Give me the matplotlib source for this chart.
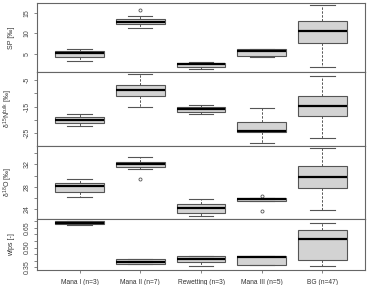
import matplotlib
matplotlib.use("Agg")
import matplotlib.pyplot as plt

plt.rcParams['font.family'] = ['Liberation Sans', 'DejaVu Sans']
plt.rcParams['mathtext.fontset'] = 'custom'
plt.rcParams['mathtext.rm'] = 'Liberation Sans'
plt.rcParams['mathtext.it'] = 'Liberation Sans'

# Groups
groups = ["Mana I (n=3)", "Mana II (n=7)", "Rewetting (n=3)", "Mana III (n=5)", "BG (n=47)"]

# SP
sp_low = [3.3, 11.3, 1.3, 4.2, 1.9]
sp_q1 = [4.3, 12.3, 1.9, 4.5, 7.6]
sp_med = [5.2, 12.8, 2.5, 5.8, 10.5]
sp_q3 = [5.7, 13.5, 2.8, 6.1, 13.0]
sp_high = [6.2, 14.2, 3.0, 6.3, 17.0]
sp_out = [[], [15.7], [], [], []]

# d15N bulk
n_low = [-22.2, -15.0, -17.9, -28.7, -26.7]
n_q1 = [-21.0, -11.0, -17.0, -24.5, -18.5]
n_med = [-20.0, -8.9, -16.0, -24.1, -14.9]
n_q3 = [-19.0, -6.9, -15.1, -20.6, -11.1]
n_high = [-17.9, -2.9, -14.3, -15.5, -3.4]
n_out = [[], [], [], [], []]

# d18O
o_low = [26.1, 31.2, 22.7, 25.5, 23.8]
o_q1 = [27.1, 31.5, 23.3, 25.5, 27.7]
o_med = [28.1, 32.0, 24.1, 25.7, 29.7]
o_q3 = [28.7, 32.4, 24.9, 25.95, 31.75]
o_high = [29.4, 33.3, 25.8, 25.95, 34.9]
o_out = [[], [29.3], [], [26.4, 23.7], []]

# wfps
w_low = [0.67, 0.372, 0.363, 0.37, 0.363]
w_q1 = [0.678, 0.378, 0.393, 0.37, 0.405]
w_med = [0.69, 0.393, 0.415, 0.425, 0.567]
w_q3 = [0.70, 0.41, 0.435, 0.435, 0.635]
w_high = [0.70, 0.415, 0.435, 0.435, 0.685]
w_out = [[], [], [], [], []]

panels = [
    (sp_low, sp_q1, sp_med, sp_q3, sp_high, sp_out, "SP [‰]",
     (0.6, 17.4), [5, 10, 15], [5, 10, 15]),
    (n_low, n_q1, n_med, n_q3, n_high, n_out, r"$\delta^{15}$N$^{bulk}$ [‰]",
     (-29.75, -2.0), [-25, -20, -15, -10, -5], [-25, -15, -5]),
    (o_low, o_q1, o_med, o_q3, o_high, o_out, r"$\delta^{18}$O [‰]",
     (22.2, 35.3), [24, 26, 28, 30, 32, 34], [24, 28, 32]),
    (w_low, w_q1, w_med, w_q3, w_high, w_out, "wfps [-]",
     (0.33, 0.717), [0.35, 0.40, 0.45, 0.50, 0.55, 0.60, 0.65, 0.70], [0.35, 0.50, 0.65]),
]

edge = "#555555"
fig = plt.figure(figsize=(3.72, 2.85), dpi=100)

# panel edges in pixels (top, bottom)
bounds = [(3, 72), (72, 146), (146, 219), (219, 270)]
left, right = 37 / 372, 365 / 372

for k, (lo, q1, med, q3, hi, out, label, ylim, ticks, labeled) in enumerate(panels):
    top, bot = bounds[k]
    ax = fig.add_axes([left, 1 - bot / 285, right - left, (bot - top) / 285])
    stats = []
    for i in range(len(groups)):
        stats.append(dict(whislo=lo[i], q1=q1[i], med=med[i], q3=q3[i],
                          whishi=hi[i], fliers=out[i]))
    ax.bxp(stats, positions=range(1, 6), widths=0.8, patch_artist=True,
           boxprops=dict(facecolor="#d3d3d3", edgecolor=edge, linewidth=0.8),
           medianprops=dict(color="black", linewidth=1.6),
           whiskerprops=dict(color=edge, linewidth=0.7, linestyle=(0, (2.5, 1.5))),
           capprops=dict(color=edge, linewidth=0.8),
           capwidths=0.4,
           flierprops=dict(marker="o", markersize=2.2, markerfacecolor="none",
                           markeredgecolor=edge, markeredgewidth=0.6))
    ax.set_xlim(0.3, 5.7)
    ax.set_ylim(*ylim)
    ax.set_yticks(ticks)
    if k < 3:
        tlabels = [("%g" % t) if t in labeled else "" for t in ticks]
    else:
        tlabels = [("%.2f" % t) if any(abs(t - l) < 1e-9 for l in labeled) else ""
                   for t in ticks]
    ax.set_yticklabels(tlabels, rotation=90, va="center", fontsize=5, color="#444444")
    ax.tick_params(axis="y", length=2.5, width=0.5, color="#555555", pad=2)
    ax.set_ylabel(label, fontsize=5, color="#333333")
    ax.yaxis.set_label_coords(-0.068, 0.5)
    for s in ax.spines.values():
        s.set_color("#666666")
        s.set_linewidth(0.8)
    if k < 3:
        ax.set_xticks([])
    else:
        ax.set_xticks(range(1, 6))
        ax.set_xticklabels(groups, fontsize=4.8, color="#333333")
        ax.tick_params(axis="x", length=2.5, width=0.5, color="#555555", pad=4)

plt.savefig("out.png", dpi=100)
